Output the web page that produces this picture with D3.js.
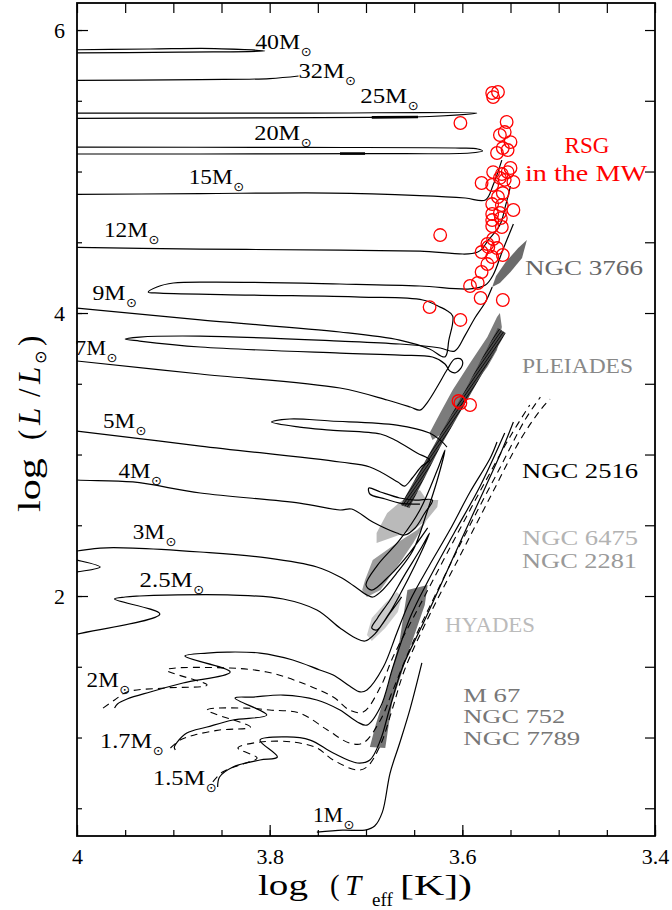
<!DOCTYPE html>
<html>
<head>
<meta charset="utf-8">
<script src="https://cdn.jsdelivr.net/npm/d3@7"></script>
<style>
  body { margin: 0; background: #fff; }
</style>
</head>
<body>
<div class="vis-hrd"></div>
<script>
// Evolutionary tracks, points are [log Teff, log L/Lsun]
const m40 = [[4.020,5.837],[3.893,5.844],[3.805,5.851],[3.857,5.869],[3.924,5.866],[4.020,5.859]];
const m32 = [[4.020,5.643],[3.872,5.650],[3.800,5.657],[3.770,5.675]];
const m25 = [[4.020,5.413],[3.769,5.413],[3.585,5.413],[3.634,5.389],[3.694,5.382],[3.872,5.378],[4.020,5.375]];
const m20 = [[4.020,5.173],[3.769,5.170],[3.602,5.166],[3.584,5.159],[3.579,5.145],[3.592,5.131],[3.701,5.127],[3.872,5.124],[4.020,5.124]];
const m15 = [[4.020,4.837],[3.872,4.844],[3.737,4.848],[3.644,4.830],[3.597,4.813],[3.576,4.799],[3.568,4.905],[3.559,5.081]];
const m12 = [[4.020,4.466],[3.872,4.452],[3.727,4.445],[3.644,4.438],[3.584,4.431],[3.573,4.516],[3.561,4.622],[3.555,4.762],[3.550,4.897]];
const m9 = [[4.020,4.046],[4.000,4.035],[3.872,3.951],[3.727,3.866],[3.665,3.809],[3.634,3.746],[3.618,3.690],[3.614,3.809],
  [3.610,3.979],[3.617,4.021],[3.623,4.042],[3.641,4.092],[3.706,4.113],[3.820,4.127],[3.914,4.141],[3.926,4.148],
  [3.917,4.184],[3.900,4.212],[3.859,4.219],[3.727,4.205],[3.644,4.191],[3.592,4.170],[3.576,4.198],[3.568,4.269],
  [3.558,4.445],[3.547,4.629]];
const m7 = [[4.020,3.678],[4.000,3.661],[3.872,3.569],[3.727,3.470],[3.678,3.385],[3.654,3.336],[3.644,3.314],[3.636,3.371],
  [3.625,3.491],[3.616,3.597],[3.608,3.675],[3.601,3.672],[3.600,3.630],[3.607,3.578],[3.613,3.590],[3.618,3.640],
  [3.631,3.689],[3.665,3.703],[3.727,3.717],[3.872,3.760],[3.935,3.802],[3.950,3.816],[3.935,3.830],[3.872,3.837],
  [3.727,3.802],[3.665,3.781],[3.623,3.753],[3.608,3.731],[3.597,3.844],[3.587,3.965],[3.576,4.078],[3.569,4.184]];
const m5 = [[4.020,3.180],[4.000,3.166],[3.872,3.060],[3.727,2.947],[3.696,2.912],[3.667,2.806],[3.660,2.777],[3.652,2.834],
  [3.642,2.919],[3.634,2.961],[3.647,3.011],[3.670,3.102],[3.685,3.145],[3.737,3.173],[3.769,3.194],[3.798,3.230],
  [3.779,3.251],[3.737,3.237],[3.668,3.208],[3.634,3.152],[3.623,3.102],[3.616,3.053]];
const m4 = [[4.020,2.834],[4.000,2.820],[3.942,2.806],[3.872,2.728],[3.769,2.657],[3.727,2.608],[3.715,2.615],[3.693,2.523],
  [3.668,2.445],[3.660,2.431],[3.649,2.481],[3.639,2.587],[3.631,2.678],[3.649,2.678],[3.665,2.693],[3.685,2.735],
  [3.697,2.763],[3.696,2.721],[3.680,2.686],[3.665,2.657],[3.644,2.650]];
const m3 = [[4.028,2.141],[4.000,2.170],[3.976,2.205],[4.000,2.254],[4.023,2.283],[4.028,2.304],[4.000,2.318],[3.976,2.339],
  [3.942,2.339],[3.872,2.311],[3.803,2.269],[3.751,2.205],[3.727,2.134],[3.711,2.064],[3.699,2.007],[3.693,1.993],
  [3.685,2.028],[3.668,2.163],[3.651,2.325],[3.637,2.587],[3.626,2.820],[3.618,3.032],[3.626,2.890],[3.644,2.608],
  [3.665,2.396],[3.688,2.219],[3.700,2.078],[3.694,2.042],[3.675,2.148],[3.654,2.311],[3.636,2.481]];
const m2p5 = [[4.028,1.689],[4.000,1.731],[3.914,1.873],[3.961,1.979],[3.950,1.993],[3.935,2.000],[3.907,2.007],[3.838,2.007],
  [3.786,1.979],[3.751,1.901],[3.727,1.774],[3.711,1.703],[3.701,1.682],[3.691,1.731],[3.675,1.887],[3.665,2.007],
  [3.649,2.219],[3.634,2.445],[3.644,2.325],[3.660,2.148],[3.675,1.972],[3.688,1.845],[3.694,1.774],[3.689,1.760],
  [3.675,1.880],[3.663,1.993]];
const m2 = [[3.961,1.208],[3.958,1.237],[3.948,1.272],[3.924,1.322],[3.890,1.385],[3.841,1.463],[3.888,1.576],[3.865,1.597],
  [3.844,1.604],[3.810,1.597],[3.776,1.548],[3.748,1.477],[3.734,1.442],[3.717,1.364],[3.706,1.322],[3.699,1.336],
  [3.682,1.498],[3.668,1.739],[3.654,1.972],[3.634,2.219],[3.613,2.466],[3.592,2.735],[3.571,2.975],[3.564,3.088]];
const m1p7 = [[3.898,0.912],[3.899,0.933],[3.896,0.968],[3.886,1.032],[3.865,1.074],[3.838,1.124],[3.803,1.159],[3.836,1.279],
  [3.817,1.286],[3.786,1.300],[3.751,1.265],[3.727,1.194],[3.709,1.110],[3.699,1.088],[3.685,1.216],[3.672,1.498],
  [3.654,1.852],[3.634,2.127],[3.608,2.452],[3.582,2.770],[3.556,3.152]];
const m1p5 = [[3.854,0.650],[3.852,0.721],[3.838,0.792],[3.810,0.841],[3.792,0.862],[3.810,0.982],[3.782,1.004],[3.758,0.982],
  [3.734,0.890],[3.709,0.820],[3.696,0.841],[3.685,0.982],[3.675,1.216],[3.662,1.498],[3.639,1.830],[3.613,2.219],
  [3.587,2.608],[3.561,2.996],[3.547,3.230]];
const m1 = [[3.751,0.332],[3.724,0.346],[3.701,0.346],[3.691,0.375],[3.683,0.473],[3.675,0.749],[3.665,0.961],[3.654,1.208],[3.642,1.527]];

// dashed tracks (alternative models, 2, 1.7, 1.5 Msun)
const d2 = [[3.973,1.208],[3.961,1.265],[3.948,1.322],[3.909,1.350],[3.865,1.371],[3.907,1.477],[3.841,1.491],[3.803,1.463],
  [3.769,1.392],[3.734,1.286],[3.717,1.194],[3.703,1.180],[3.685,1.357],[3.672,1.569],[3.644,1.936],[3.613,2.339],
  [3.582,2.735],[3.550,3.131],[3.530,3.350]];
const d1p7 = [[3.903,0.926],[3.893,0.982],[3.878,1.018],[3.852,1.053],[3.820,1.074],[3.865,1.194],[3.824,1.208],[3.800,1.194],
  [3.769,1.173],[3.740,1.053],[3.717,0.961],[3.703,0.961],[3.685,1.124],[3.672,1.336],[3.654,1.633],[3.623,2.078],
  [3.592,2.502],[3.561,2.905],[3.535,3.244],[3.519,3.406]];
const d1p5 = [[3.859,0.686],[3.849,0.756],[3.831,0.806],[3.813,0.855],[3.833,0.926],[3.810,0.968],[3.776,0.968],[3.751,0.926],
  [3.734,0.841],[3.709,0.770],[3.699,0.792],[3.685,0.947],[3.673,1.194],[3.660,1.477],[3.634,1.866],[3.602,2.290],
  [3.571,2.700],[3.540,3.102],[3.519,3.314],[3.509,3.392]];

// short thick pieces on the 25 and 20 Msun tracks
const thick25 = [[3.694,5.383],[3.646,5.385]];
const thick20 = [[3.727,5.127],[3.701,5.127]];

// cluster regions
const ngc3766 = [[3.533,4.516],[3.538,4.389],[3.550,4.290],[3.561,4.212],[3.569,4.184],[3.565,4.261],[3.555,4.360],[3.542,4.459]];
const pleiades = [[3.561,4.000],[3.559,3.901],[3.564,3.738],[3.574,3.618],[3.592,3.456],[3.606,3.293],[3.620,3.152],
  [3.631,3.102],[3.634,3.152],[3.623,3.293],[3.610,3.456],[3.592,3.647],[3.574,3.830],[3.564,3.972]];
const ngc2516 = [[3.563,3.894],[3.555,3.859],[3.592,3.420],[3.623,3.053],[3.655,2.622],[3.664,2.643],[3.631,3.046],[3.597,3.456]];
const ngc6475 = [[3.644,2.749],[3.637,2.678],[3.625,2.678],[3.626,2.629],[3.637,2.537],[3.651,2.466],[3.689,2.375],
  [3.689,2.445],[3.678,2.587],[3.662,2.678]];
const ngc2281 = [[3.637,2.537],[3.651,2.375],[3.665,2.233],[3.685,2.042],[3.699,1.993],[3.704,2.042],[3.701,2.113],
  [3.693,2.254],[3.668,2.375],[3.647,2.466]];
const hyades = [[3.699,1.724],[3.694,1.845],[3.680,1.951],[3.668,2.028],[3.663,1.993],[3.667,1.887],[3.680,1.774],[3.694,1.682]];
const m67 = [[3.657,2.042],[3.636,2.078],[3.639,1.936],[3.657,1.583],[3.673,1.244],[3.680,0.926],[3.696,0.933],
  [3.690,1.088],[3.677,1.371],[3.665,1.689]];

// red supergiants in the Milky Way
const rsgT = [3.569,3.563,3.568,3.602,3.554,3.556,3.561,3.550,3.553,3.558,3.564,3.550,3.568,3.559,3.553,3.580,3.569,
  3.561,3.556,3.547,3.558,3.563,3.569,3.559,3.547,3.569,3.561,3.569,3.560,3.569,3.559,3.623,3.568,3.574,3.580,3.573,
  3.564,3.558,3.569,3.574,3.580,3.584,3.592,3.581,3.558,3.634,3.602,3.604,3.602,3.592];
const rsgL = [5.555,5.562,5.526,5.343,5.350,5.279,5.258,5.208,5.152,5.166,5.131,5.025,4.996,4.982,4.996,4.919,4.905,
  4.955,4.941,4.926,4.848,4.820,4.770,4.763,4.728,4.700,4.707,4.657,4.671,4.615,4.608,4.551,4.523,4.488,4.431,4.467,
  4.459,4.410,4.396,4.346,4.290,4.212,4.191,4.106,4.092,4.042,3.951,3.378,3.364,3.350];

// mass labels, anchored at [log Teff, log L]
const massLabels = ["40","32","25","20","15","12","9","7","5","4","3","2.5","2","1.7","1.5","1"];
const massLabelT = [3.815,3.770,3.706,3.816,3.884,3.972,3.984,4.002,3.973,3.957,3.942,3.935,3.990,3.976,3.921,3.755];
const massLabelL = [5.866,5.661,5.484,5.223,4.912,4.537,4.092,3.703,3.187,2.834,2.403,2.064,1.357,0.926,0.664,0.403];
const massLabelW = [45,46,47,46,44,44,33,31,32,32,32,53,32,52,52,30];

const clusterNames = ["NGC 3766","PLEIADES","NGC 2516","NGC 6475","NGC 2281","HYADES","M 67","NGC 752","NGC 7789"];
const clusterT = [3.535,3.538,3.538,3.538,3.538,3.618,3.599,3.599,3.599];
const clusterL = [4.269,3.576,2.834,2.360,2.198,1.746,1.251,1.102,0.947];
const clusterW = [118,111,116,116,115,90,57,102,117];
const clusterColor = ["#666","#888","#000","#b3b3b3","#999","#bbb","#777","#777","#777"];

const xTicks = [4, 3.8, 3.6, 3.4];
const xTickLabels = ["4", "3.8", "3.6", "3.4"];
const yTicks = [2, 4, 6];
const yTickLabels = ["2", "4", "6"];

const W = 672, H = 910;
const serif = '"Liberation Serif", "Times New Roman", serif';

const svg = d3.select('.vis-hrd').append('svg')
    .attr('width', W)
    .attr('height', H);

const x = d3.scaleLinear().domain([4, 3.4]).range([77, 655]);
const y = d3.scaleLinear().domain([0.304, 6.191]).range([836, 3]);

const defs = svg.append('defs');
defs.append('clipPath').attr('id', 'plot-clip')
    .append('rect')
    .attr('x', x(4)).attr('y', y(6.191))
    .attr('width', x(3.4) - x(4)).attr('height', y(0.304) - y(6.191));

const hatch = defs.append('pattern')
    .attr('id', 'hatch')
    .attr('width', 2.4).attr('height', 2.4)
    .attr('patternUnits', 'userSpaceOnUse')
    .attr('patternTransform', 'rotate(35)');
hatch.append('rect').attr('width', 2.4).attr('height', 2.4).attr('fill', '#4a4a4a');
hatch.append('line').attr('x1', 0).attr('y1', 0).attr('x2', 0).attr('y2', 2.4)
    .attr('stroke', '#000').attr('stroke-width', 1.4);

const plot = svg.append('g').attr('clip-path', 'url(#plot-clip)');

const area = d3.line().x(d => x(d[0])).y(d => y(d[1])).curve(d3.curveLinearClosed);
const track = d3.line().x(d => x(d[0])).y(d => y(d[1])).curve(d3.curveCatmullRom.alpha(0.5));

// Cluster regions
const regions = [
    { pts: pleiades, fill: '#7c7c7c' },
    { pts: ngc3766, fill: '#6b6b6b' },
    { pts: ngc6475, fill: '#bababa' },
    { pts: ngc2281, fill: '#9c9c9c' },
    { pts: hyades, fill: '#cbcbcb' },
    { pts: m67, fill: '#767676' },
    { pts: ngc2516, fill: 'url(#hatch)' }
];
plot.selectAll('.region')
    .data(regions)
    .enter().append('path')
    .attr('class', 'region')
    .attr('d', d => area(d.pts))
    .attr('fill', d => d.fill)
    .attr('stroke', 'none');

// Solid tracks
const solid = [m40, m32, m25, m20, m15, m12, m9, m7, m5, m4, m3, m2p5, m2, m1p7, m1p5, m1];
plot.selectAll('.track')
    .data(solid)
    .enter().append('path')
    .attr('class', 'track')
    .attr('d', track)
    .attr('fill', 'none')
    .attr('stroke', '#000')
    .attr('stroke-width', 1.2)
    .attr('stroke-linejoin', 'round');

// Dashed tracks
plot.selectAll('.dtrack')
    .data([d2, d1p7, d1p5])
    .enter().append('path')
    .attr('class', 'dtrack')
    .attr('d', track)
    .attr('fill', 'none')
    .attr('stroke', '#000')
    .attr('stroke-width', 1.1)
    .attr('stroke-dasharray', '7,5');

plot.selectAll('.thick')
    .data([thick25, thick20])
    .enter().append('path')
    .attr('class', 'thick')
    .attr('d', d3.line().x(d => x(d[0])).y(d => y(d[1])))
    .attr('stroke', '#000')
    .attr('stroke-width', 2.6);

// RSG circles
plot.selectAll('.rsg')
    .data(rsgT.map((t, i) => [t, rsgL[i]]))
    .enter().append('circle')
    .attr('class', 'rsg')
    .attr('cx', d => x(d[0]))
    .attr('cy', d => y(d[1]))
    .attr('r', 6.3)
    .attr('fill', 'none')
    .attr('stroke', '#f00')
    .attr('stroke-width', 1.3);

// Axes: inward ticks, longer on left/bottom for majors
const xMinor = d3.range(0, 13).map(i => 4 - i * 0.05);
const yMinor = d3.range(1, 13).map(i => i * 0.5);

const styleAxis = g => {
    g.select('.domain').remove();
    g.selectAll('line').attr('stroke', '#000').attr('stroke-width', 1.2);
    g.selectAll('text').attr('font-family', serif).attr('font-size', 22).attr('fill', '#000');
};

svg.append('g').attr('transform', `translate(0,${y(0.304)})`)
    .call(d3.axisBottom(x).tickValues(xMinor).tickSize(-6).tickFormat(''))
    .call(styleAxis);
svg.append('g').attr('transform', `translate(0,${y(0.304)})`)
    .call(d3.axisBottom(x).tickValues(xTicks).tickSize(-11).tickPadding(12)
        .tickFormat((d, i) => xTickLabels[i]))
    .call(styleAxis);
svg.append('g').attr('transform', `translate(0,${y(6.191)})`)
    .call(d3.axisTop(x).tickValues(xMinor).tickSize(-10).tickFormat(''))
    .call(styleAxis);

svg.append('g').attr('transform', `translate(${x(4)},0)`)
    .call(d3.axisLeft(y).tickValues(yMinor).tickSize(-5).tickFormat(''))
    .call(styleAxis);
svg.append('g').attr('transform', `translate(${x(4)},0)`)
    .call(d3.axisLeft(y).tickValues(yTicks).tickSize(-11).tickPadding(12)
        .tickFormat((d, i) => yTickLabels[i]))
    .call(styleAxis);
svg.append('g').attr('transform', `translate(${x(3.4)},0)`)
    .call(d3.axisRight(y).tickValues(yMinor).tickSize(-10).tickFormat(''))
    .call(styleAxis);

svg.append('rect')
    .attr('x', x(4)).attr('y', y(6.191))
    .attr('width', x(3.4) - x(4)).attr('height', y(0.304) - y(6.191))
    .attr('fill', 'none').attr('stroke', '#000').attr('stroke-width', 1.8);

// Mass labels
const ml = svg.append('g').attr('font-family', serif).attr('font-size', 21);
massLabels.forEach((m, i) => {
    const px = x(massLabelT[i]), py = y(massLabelL[i]);
    ml.append('text')
        .attr('x', px).attr('y', py)
        .attr('textLength', massLabelW[i]).attr('lengthAdjust', 'spacingAndGlyphs')
        .text(m + 'M');
    ml.append('text')
        .attr('x', px + massLabelW[i] + 6).attr('y', py + 7)
        .attr('text-anchor', 'middle')
        .attr('font-family', '"DejaVu Sans", sans-serif')
        .attr('font-size', 13)
        .text('\u2299');
});

// Cluster labels
clusterNames.forEach((c, i) => {
    svg.append('text')
        .attr('x', x(clusterT[i])).attr('y', y(clusterL[i]))
        .attr('font-family', serif)
        .attr('font-size', i < 6 ? 22 : 19)
        .attr('fill', clusterColor[i])
        .attr('textLength', clusterW[i]).attr('lengthAdjust', 'spacingAndGlyphs')
        .text(c);
});

// RSG label
svg.append('text')
    .attr('x', x(3.4706)).attr('y', y(5.131))
    .attr('text-anchor', 'middle')
    .attr('font-family', serif).attr('font-size', 24).attr('fill', '#f00')
    .attr('textLength', 45).attr('lengthAdjust', 'spacingAndGlyphs')
    .text('RSG');
svg.append('text')
    .attr('x', x(3.4716)).attr('y', y(4.933))
    .attr('text-anchor', 'middle')
    .attr('font-family', serif).attr('font-size', 24).attr('fill', '#f00')
    .attr('textLength', 122).attr('lengthAdjust', 'spacingAndGlyphs')
    .text('in the MW');

// X axis title
const xt = svg.append('text')
    .attr('y', 895)
    .attr('font-family', serif).attr('font-size', 29);
xt.append('tspan').attr('x', 258).attr('textLength', 50).attr('lengthAdjust', 'spacingAndGlyphs').text('log');
xt.append('tspan').attr('x', 330).text('(');
xt.append('tspan').attr('x', 345).attr('font-style', 'italic').text('T');
xt.append('tspan').attr('x', 372).attr('y', 906).attr('font-size', 19).text('eff');
xt.append('tspan').attr('x', 400).attr('y', 895).attr('textLength', 72).attr('lengthAdjust', 'spacingAndGlyphs').text('[K])');

// Y axis title
const yt = svg.append('text')
    .attr('transform', 'translate(40,0) rotate(-90)')
    .attr('y', 0)
    .attr('font-family', serif).attr('font-size', 31);
yt.append('tspan').attr('x', -512).attr('textLength', 54).attr('lengthAdjust', 'spacingAndGlyphs').text('log');
yt.append('tspan').attr('x', -440).text('(');
yt.append('tspan').attr('x', -425).attr('font-style', 'italic').text('L');
yt.append('tspan').attr('x', -397).text('/');
yt.append('tspan').attr('x', -384).attr('font-style', 'italic').text('L');
yt.append('tspan').attr('x', -364).attr('y', 6)
    .attr('font-family', '"DejaVu Sans", sans-serif').attr('font-size', 16).text('\u2299');
yt.append('tspan').attr('x', -346).attr('y', 0).text(')');
</script>
</body>
</html>
